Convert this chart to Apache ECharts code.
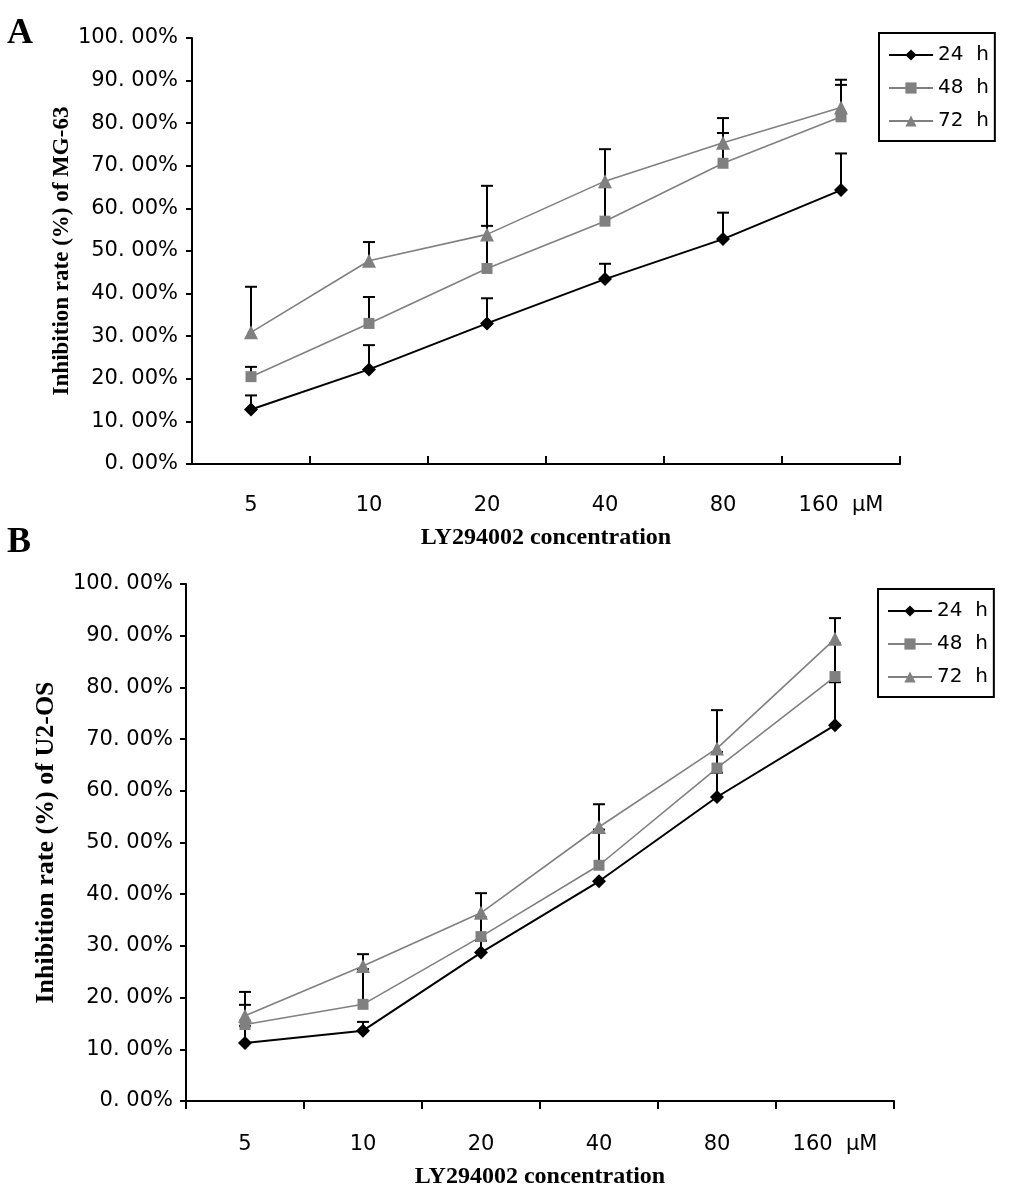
<!DOCTYPE html>
<html>
<head>
<meta charset="utf-8">
<script src="https://cdn.jsdelivr.net/npm/echarts@6/dist/echarts.min.js"></script>
<style>
html,body{margin:0;padding:0;background:#fff;}
#chart{width:1018px;height:1191px;}
</style>
</head>
<body>
<div id="chart"></div>
<script>
// ---- data ----
var categories = ['5', '10', '20', '40', '80', '160  μM'];
var yTicks = ['0. 00%', '10. 00%', '20. 00%', '30. 00%', '40. 00%', '50. 00%', '60. 00%', '70. 00%', '80. 00%', '90. 00%', '100. 00%'];
var seriesNames = ['24  h', '48  h', '72  h'];

// Panel A (MG-63): means and error-bar tops (%)
var a24 = [12.8, 22.2, 33.0, 43.4, 52.8, 64.3];
var a24Top = [16.1, 27.9, 38.9, 47.0, 59.0, 72.9];
var a48 = [20.5, 33.0, 45.9, 57.0, 70.6, 81.5];
var a48Top = [22.8, 39.2, 55.9, 65.0, 77.7, 89.0];
var a72 = [30.9, 47.7, 53.9, 66.4, 75.4, 83.7];
var a72Top = [41.6, 52.1, 65.3, 73.9, 81.2, 90.2];

// Panel B (U2-OS)
var b24 = [11.2, 13.6, 28.7, 42.5, 58.8, 72.7];
var b24Top = [14.5, 15.3, 31.0, null, 63.5, 81.0];
var b48 = [14.8, 18.7, 31.8, 45.6, 64.4, 82.1];
var b48Top = [18.6, 25.5, 35.5, 52.5, 67.5, 88.5];
var b72 = [16.5, 26.1, 36.4, 53.0, 68.2, 89.4];
var b72Top = [21.1, 28.4, 40.2, 57.4, 75.6, 93.4];

// ---- chart ----
var chart = echarts.init(document.getElementById('chart'));
var tickFont = 'DejaVu Sans';
var titleFont = '"Liberation Serif","Times New Roman",serif';

function errData(vals, tops) {
  var out = [];
  for (var i = 0; i < vals.length; i++) {
    if (tops[i] != null) out.push([i, vals[i], tops[i]]);
  }
  return out;
}
function errItem(params, api) {
  var p0 = api.coord([api.value(0), api.value(1)]);
  var p1 = api.coord([api.value(0), api.value(2)]);
  var st = {stroke: '#000', lineWidth: 2};
  return {type: 'group', children: [
    {type: 'line', shape: {x1: p0[0], y1: p0[1], x2: p1[0], y2: p1[1]}, style: st},
    {type: 'line', shape: {x1: p1[0] - 6, y1: p1[1], x2: p1[0] + 6, y2: p1[1]}, style: st}
  ]};
}
function errSeries(idx, vals, tops) {
  return {type: 'custom', xAxisIndex: idx, yAxisIndex: idx, renderItem: errItem,
    data: errData(vals, tops), z: 1, silent: true, clip: false};
}
var styles = [
  {color: '#000000', symbol: 'diamond', size: 14, width: 2},
  {color: '#808080', symbol: 'rect', size: 11, width: 1.6},
  {color: '#808080', symbol: 'triangle', size: 14, width: 1.6}
];
function lineSeries(idx, k, vals) {
  var s = styles[k];
  return {type: 'line', name: seriesNames[k], xAxisIndex: idx, yAxisIndex: idx,
    data: vals, symbol: s.symbol, symbolSize: s.size, showSymbol: true,
    lineStyle: {color: s.color, width: s.width}, itemStyle: {color: s.color},
    z: 3, animation: false};
}
function xAxis(idx, tickInside, labelMargin, nameGap) {
  return {type: 'category', gridIndex: idx, data: categories, boundaryGap: true,
    axisLine: {lineStyle: {color: '#000', width: 2}},
    axisTick: {show: true, inside: tickInside, length: 8, alignWithLabel: false, lineStyle: {color: '#000', width: 2}},
    axisLabel: {color: '#000', fontFamily: tickFont, fontSize: 21, margin: labelMargin},
    name: 'LY294002 concentration', nameLocation: 'middle', nameGap: nameGap, nameMoveOverlap: false,
    nameTextStyle: {color: '#000', fontFamily: titleFont, fontWeight: 'bold', fontSize: 24}};
}
function yAxis(idx, name, nameGap, nameSize, labelMargin) {
  return {type: 'value', gridIndex: idx, min: 0, max: 100, interval: 10,
    axisLine: {show: true, lineStyle: {color: '#000', width: 2}},
    axisTick: {show: true, length: 6, lineStyle: {color: '#000', width: 2}},
    splitLine: {show: false},
    axisLabel: {color: '#000', fontFamily: tickFont, fontSize: 21, margin: labelMargin,
      formatter: function (v) { return yTicks[Math.round(v / 10)]; }},
    name: name, nameLocation: 'middle', nameGap: nameGap, nameRotate: 90, nameMoveOverlap: false,
    nameTextStyle: {color: '#000', fontFamily: titleFont, fontWeight: 'bold', fontSize: nameSize}};
}
function legend(left, top) {
  return {show: true, data: seriesNames, orient: 'vertical', left: left, top: top,
    borderColor: '#000', borderWidth: 2, padding: [12, 6, 10, 9], itemGap: 13,
    itemWidth: 44, itemHeight: 14, backgroundColor: '#fff',
    textStyle: {color: '#000', fontFamily: tickFont, fontSize: 20}, selectedMode: false};
}

var option = {
  backgroundColor: '#fff',
  animation: false,
  graphic: [
    {type: 'text', left: 7, top: 16, style: {text: 'A', font: 'bold 36px ' + titleFont, fill: '#000'}},
    {type: 'text', left: 7, top: 525, style: {text: 'B', font: 'bold 36px ' + titleFont, fill: '#000'}}
  ],
  legend: [legend(879, 33), legend(878, 589)],
  grid: [
    {left: 192, top: 38, width: 708, height: 426},
    {left: 186, top: 584, width: 708, height: 517}
  ],
  xAxis: [xAxis(0, true, 31, 62), xAxis(1, false, 33, 64)],
  yAxis: [yAxis(0, 'Inhibition rate (%) of MG-63', 118, 23, 14), yAxis(1, 'Inhibition rate (%) of U2-OS', 127, 26, 13)],
  series: [
    errSeries(0, a24, a24Top), errSeries(0, a48, a48Top), errSeries(0, a72, a72Top),
    lineSeries(0, 0, a24), lineSeries(0, 1, a48), lineSeries(0, 2, a72),
    errSeries(1, b24, b24Top), errSeries(1, b48, b48Top), errSeries(1, b72, b72Top),
    lineSeries(1, 0, b24), lineSeries(1, 1, b48), lineSeries(1, 2, b72)
  ]
};
chart.setOption(option);
</script>
</body>
</html>
